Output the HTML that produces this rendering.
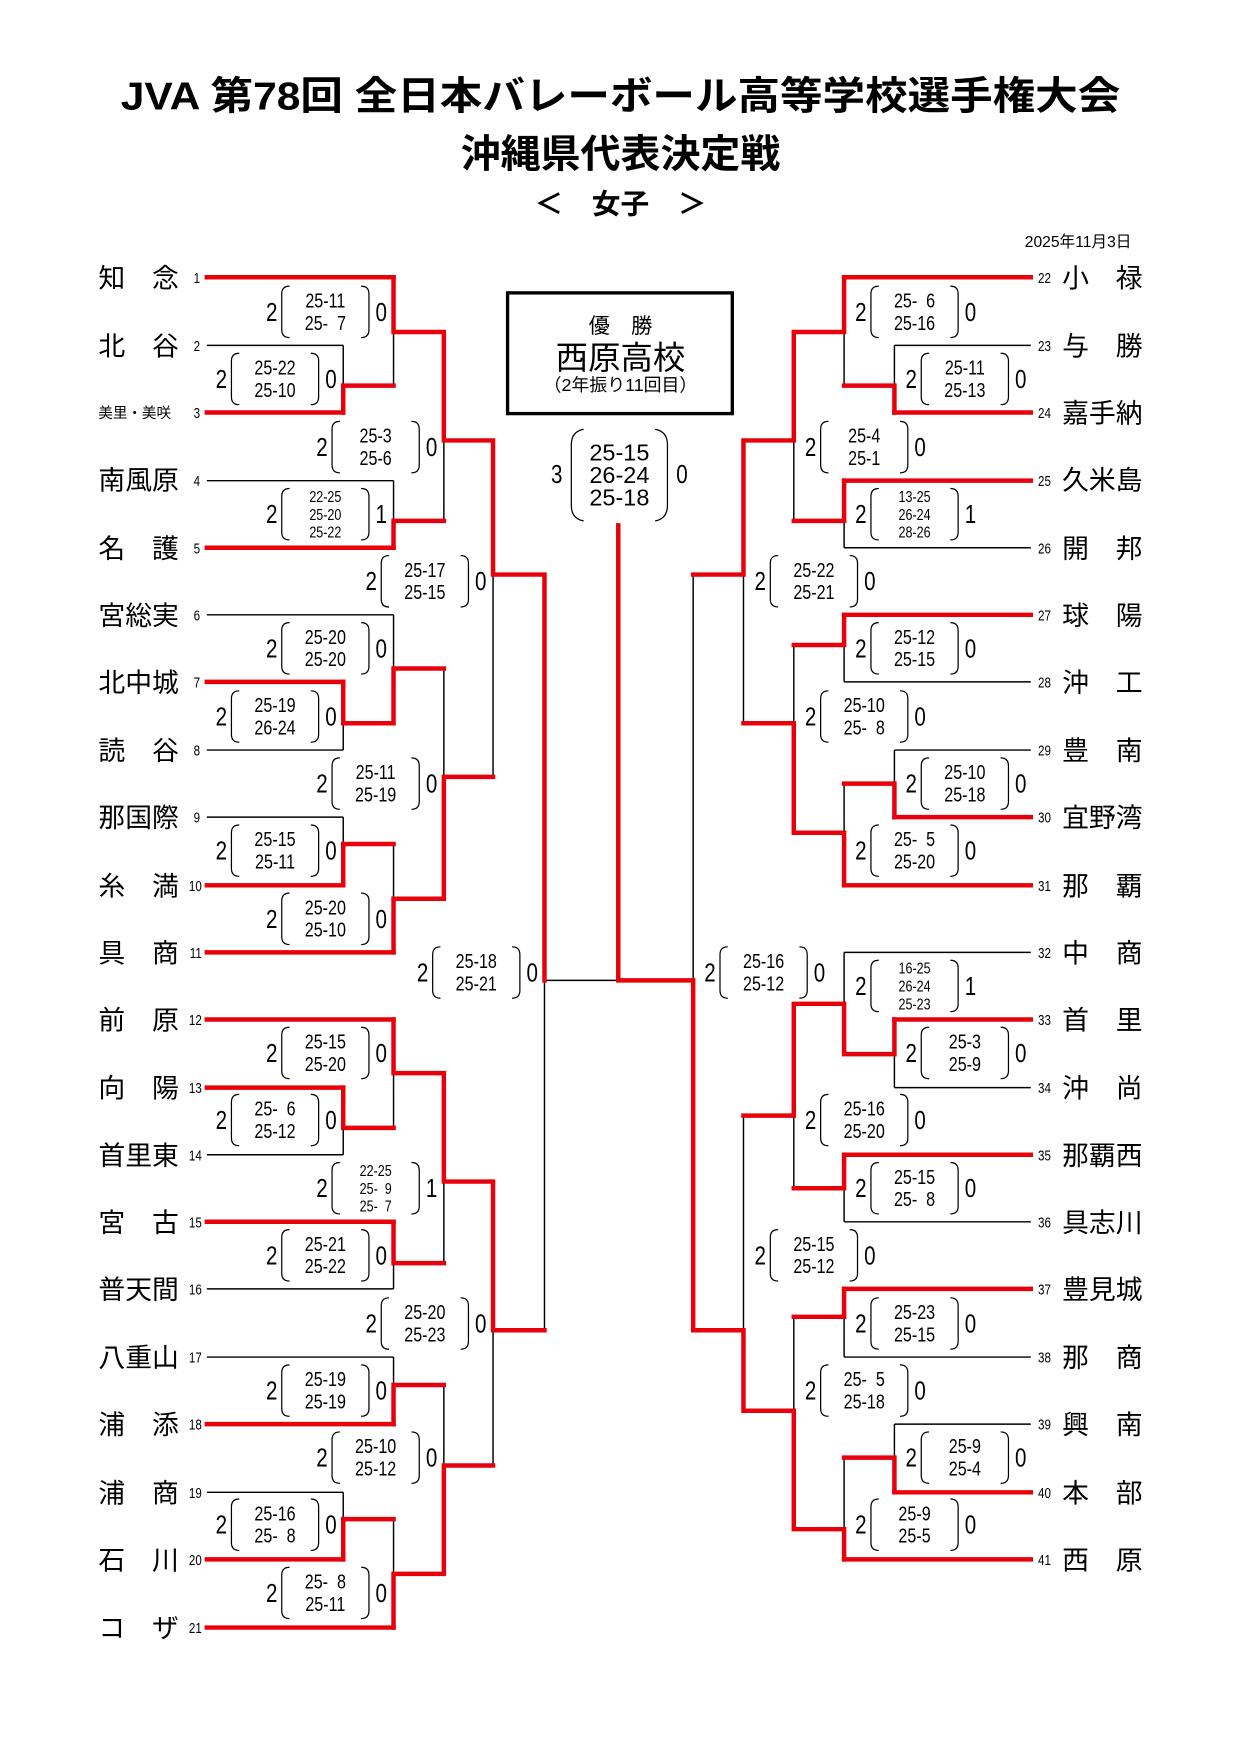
<!DOCTYPE html>
<html><head><meta charset="utf-8"><style>
html,body{margin:0;padding:0;background:#fff;}
svg{display:block;}
text{font-family:"Liberation Sans","Noto Sans CJK JP",sans-serif;fill:#000;}
.n{font-size:24px;}
.num{font-size:13px;font-family:"Liberation Sans Narrow","Liberation Sans",sans-serif;}
.w{font-size:23px;text-anchor:middle;font-family:"Liberation Sans Narrow","Liberation Sans",sans-serif;}
.s{font-size:18px;text-anchor:middle;font-family:"Liberation Sans Narrow","Liberation Sans",sans-serif;}
.s3{font-size:14px;text-anchor:middle;font-family:"Liberation Sans Narrow","Liberation Sans",sans-serif;}
.w,.s,.s3,.num{transform-box:fill-box;transform-origin:center;transform:scaleX(.8);}
.p{fill:none;stroke:#000;stroke-width:1.1;}
.r{stroke:#e8000b;stroke-width:4;stroke-linecap:square;fill:none;}
.k{stroke:#000;stroke-width:1.3;fill:none;}
</style></head><body>
<svg width="1241" height="1755" viewBox="0 0 1110 1570" preserveAspectRatio="none" xmlns="http://www.w3.org/2000/svg">
<defs>
<g id="pp"><path class="p" d="M24,-23 Q17,-23 17,-16 V16 Q17,23 24,23"/><path class="p" d="M88,-23 Q95,-23 95,-16 V16 Q95,23 88,23"/></g>
</defs>
<!-- Title -->
<text x="555" y="98" text-anchor="middle" font-size="35" font-weight="bold" textLength="894" lengthAdjust="spacingAndGlyphs">JVA 第78回 全日本バレーボール高等学校選手権大会</text>
<text x="555" y="150" text-anchor="middle" font-size="35" font-weight="bold" textLength="286" lengthAdjust="spacingAndGlyphs">沖縄県代表決定戦</text>
<text x="555" y="191" text-anchor="middle" font-size="25" font-weight="bold" textLength="154" lengthAdjust="spacingAndGlyphs">＜　女子　＞</text>
<text x="1012" y="221" text-anchor="end" font-size="14">2025年11月3日</text>

<!-- Left names -->
<g class="n">
<text x="88" y="257">知　念</text><text x="88" y="318">北　谷</text>
<text x="88" y="374" style="font-size:13px">美里・美咲</text>
<text x="88" y="438">南風原</text><text x="88" y="499">名　護</text><text x="88" y="559">宮総実</text>
<text x="88" y="619">北中城</text><text x="88" y="680">読　谷</text><text x="88" y="740">那国際</text>
<text x="88" y="801">糸　満</text><text x="88" y="861">具　商</text><text x="88" y="921">前　原</text>
<text x="88" y="982">向　陽</text><text x="88" y="1042">首里東</text><text x="88" y="1102">宮　古</text>
<text x="88" y="1162">普天間</text><text x="88" y="1223">八重山</text><text x="88" y="1283">浦　添</text>
<text x="88" y="1344">浦　商</text><text x="88" y="1404">石　川</text><text x="88" y="1465">コ　ザ</text>
</g>
<g class="num" text-anchor="end">
<text x="180" y="253">1</text><text x="180" y="314">2</text><text x="180" y="374">3</text><text x="180" y="435">4</text><text x="180" y="495">5</text><text x="180" y="555">6</text><text x="180" y="615">7</text><text x="180" y="676">8</text><text x="180" y="736">9</text><text x="182" y="797">10</text><text x="182" y="857">11</text><text x="182" y="917">12</text><text x="182" y="978">13</text><text x="182" y="1038">14</text><text x="182" y="1098">15</text><text x="182" y="1158">16</text><text x="182" y="1219">17</text><text x="182" y="1279">18</text><text x="182" y="1340">19</text><text x="182" y="1400">20</text><text x="182" y="1461">21</text>
</g>
<!-- Right names -->
<g class="n">
<text x="950" y="257">小　禄</text><text x="950" y="318">与　勝</text><text x="950" y="378">嘉手納</text>
<text x="950" y="438">久米島</text><text x="950" y="499">開　邦</text><text x="950" y="559">球　陽</text>
<text x="950" y="619">沖　工</text><text x="950" y="680">豊　南</text><text x="950" y="740">宜野湾</text>
<text x="950" y="801">那　覇</text><text x="950" y="861">中　商</text><text x="950" y="921">首　里</text>
<text x="950" y="982">沖　尚</text><text x="950" y="1042">那覇西</text><text x="950" y="1102">具志川</text>
<text x="950" y="1162">豊見城</text><text x="950" y="1223">那　商</text><text x="950" y="1283">興　南</text>
<text x="950" y="1344">本　部</text><text x="950" y="1404">西　原</text>
</g>
<g class="num">
<text x="927" y="253">22</text><text x="927" y="314">23</text><text x="927" y="374">24</text><text x="927" y="435">25</text><text x="927" y="495">26</text><text x="927" y="555">27</text><text x="927" y="615">28</text><text x="927" y="676">29</text><text x="927" y="736">30</text><text x="927" y="797">31</text><text x="927" y="857">32</text><text x="927" y="917">33</text><text x="927" y="978">34</text><text x="927" y="1038">35</text><text x="927" y="1098">36</text><text x="927" y="1158">37</text><text x="927" y="1219">38</text><text x="927" y="1279">39</text><text x="927" y="1340">40</text><text x="927" y="1400">41</text>
</g>

<!-- Left team lines -->
<path class="k" d="M185,309H307 M185,430H352 M185,550H352 M185,671H307 M185,731H307 M185,1033H307 M185,1153H352 M185,1214H352 M185,1335H307"/>
<path class="r" d="M185,248H352 M185,369H307 M185,490H352 M185,610H307 M185,792H307 M185,852H352 M185,912H352 M185,973H307 M185,1093H352 M185,1274H352 M185,1395H307 M185,1456H352"/>
<!-- Right team lines -->
<path class="k" d="M922,309H800 M922,490H755 M922,610H755 M922,671H800 M922,852H755 M922,973H800 M922,1093H755 M922,1214H755 M922,1274H800"/>
<path class="r" d="M922,248H755 M922,369H800 M922,430H755 M922,550H755 M922,731H800 M922,792H755 M922,912H800 M922,1033H755 M922,1153H755 M922,1335H800 M922,1395H755"/>

<!-- Left joins: black verticals -->
<path class="k" d="M307,309V369 M352,248V345 M352,430V490 M397,297V466 M307,610V671 M352,550V647 M307,731V792 M352,755V852 M397,598V804 M441,394V695 M307,973V1033 M352,912V1009 M352,1093V1153 M397,960V1130 M352,1214V1274 M307,1335V1395 M352,1359V1456 M397,1239V1408 M441,1057V1311 M487,514V1190 M487,877H553"/>
<!-- Left joins: red -->
<path class="r" d="M307,369V345H352 M352,248V297H397 M352,490V466H397 M397,297V394H441 M307,610V647H352 M352,647V598H397 M307,792V755H352 M352,852V804H397 M397,804V695H441 M441,394V514H487 M307,973V1009H352 M352,912V960H397 M352,1093V1130H397 M397,960V1057H441 M352,1274V1239H397 M307,1395V1359H352 M352,1456V1408H397 M397,1408V1311H441 M441,1057V1190H487 M487,514V877"/>

<!-- Right joins: black verticals -->
<path class="k" d="M800,309V369 M755,248V345 M755,430V490 M710,297V466 M755,550V610 M800,671V731 M755,701V792 M710,577V745 M665,394V647 M800,912V973 M755,852V943 M755,1033V1093 M710,898V1063 M755,1153V1214 M800,1274V1335 M755,1304V1395 M710,1178V1368 M665,998V1262 M620,514V1190"/>
<!-- Right joins: red -->
<path class="r" d="M800,369V345H755 M755,248V297H710 M755,430V466H710 M710,297V394H665 M755,550V577H710 M800,731V701H755 M755,792V745H710 M710,745V647H665 M665,394V514H620 M800,912V943H755 M755,943V898H710 M755,1033V1063H710 M710,898V998H665 M755,1153V1178H710 M800,1335V1304H755 M755,1395V1368H710 M710,1368V1262H665 M665,1262V1190H620 M620,1190V877H553 M553,877V470"/>

<!-- Champion box -->
<rect x="454" y="262" width="201" height="108" fill="none" stroke="#000" stroke-width="3"/>
<text x="555" y="298" text-anchor="middle" font-size="19">優　勝</text>
<text x="555" y="330" text-anchor="middle" font-size="29">西原高校</text>
<text x="555" y="350" text-anchor="middle" font-size="16">（2年振り11回目）</text>
<!-- Final score -->
<text x="498" y="432" class="w">3</text>
<path class="p" d="M522,384 Q511,386 511,398 V452 Q511,464 522,466"/>
<path class="p" d="M586,384 Q597,386 597,398 V452 Q597,464 586,466"/>
<text x="554" y="412" text-anchor="middle" font-size="21">25-15</text>
<text x="554" y="432" text-anchor="middle" font-size="21">26-24</text>
<text x="554" y="452" text-anchor="middle" font-size="21">25-18</text>
<text x="610" y="432" class="w">0</text>

<!-- Score blocks left (X = vertical-117) -->
<g transform="translate(235,279)"><use href="#pp"/><text class="w" x="8" y="8">2</text><text class="s" x="56" y="-4">25-11</text><text class="s" x="56" y="16">25-&#8199;7</text><text class="w" x="106" y="8">0</text></g>
<g transform="translate(190,339)"><use href="#pp"/><text class="w" x="8" y="8">2</text><text class="s" x="56" y="-4">25-22</text><text class="s" x="56" y="16">25-10</text><text class="w" x="106" y="8">0</text></g>
<g transform="translate(280,400)"><use href="#pp"/><text class="w" x="8" y="8">2</text><text class="s" x="56" y="-4">25-3</text><text class="s" x="56" y="16">25-6</text><text class="w" x="106" y="8">0</text></g>
<g transform="translate(235,460)"><use href="#pp"/><text class="w" x="8" y="8">2</text><text class="s3" x="56" y="-11">22-25</text><text class="s3" x="56" y="5">25-20</text><text class="s3" x="56" y="21">25-22</text><text class="w" x="106" y="8">1</text></g>
<g transform="translate(324,520)"><use href="#pp"/><text class="w" x="8" y="8">2</text><text class="s" x="56" y="-4">25-17</text><text class="s" x="56" y="16">25-15</text><text class="w" x="106" y="8">0</text></g>
<g transform="translate(235,580)"><use href="#pp"/><text class="w" x="8" y="8">2</text><text class="s" x="56" y="-4">25-20</text><text class="s" x="56" y="16">25-20</text><text class="w" x="106" y="8">0</text></g>
<g transform="translate(190,641)"><use href="#pp"/><text class="w" x="8" y="8">2</text><text class="s" x="56" y="-4">25-19</text><text class="s" x="56" y="16">26-24</text><text class="w" x="106" y="8">0</text></g>
<g transform="translate(280,701)"><use href="#pp"/><text class="w" x="8" y="8">2</text><text class="s" x="56" y="-4">25-11</text><text class="s" x="56" y="16">25-19</text><text class="w" x="106" y="8">0</text></g>
<g transform="translate(190,761)"><use href="#pp"/><text class="w" x="8" y="8">2</text><text class="s" x="56" y="-4">25-15</text><text class="s" x="56" y="16">25-11</text><text class="w" x="106" y="8">0</text></g>
<g transform="translate(235,822)"><use href="#pp"/><text class="w" x="8" y="8">2</text><text class="s" x="56" y="-4">25-20</text><text class="s" x="56" y="16">25-10</text><text class="w" x="106" y="8">0</text></g>
<g transform="translate(370,870)"><use href="#pp"/><text class="w" x="8" y="8">2</text><text class="s" x="56" y="-4">25-18</text><text class="s" x="56" y="16">25-21</text><text class="w" x="106" y="8">0</text></g>
<g transform="translate(235,942)"><use href="#pp"/><text class="w" x="8" y="8">2</text><text class="s" x="56" y="-4">25-15</text><text class="s" x="56" y="16">25-20</text><text class="w" x="106" y="8">0</text></g>
<g transform="translate(190,1002)"><use href="#pp"/><text class="w" x="8" y="8">2</text><text class="s" x="56" y="-4">25-&#8199;6</text><text class="s" x="56" y="16">25-12</text><text class="w" x="106" y="8">0</text></g>
<g transform="translate(280,1063)"><use href="#pp"/><text class="w" x="8" y="8">2</text><text class="s3" x="56" y="-11">22-25</text><text class="s3" x="56" y="5">25-&#8199;9</text><text class="s3" x="56" y="21">25-&#8199;7</text><text class="w" x="106" y="8">1</text></g>
<g transform="translate(235,1123)"><use href="#pp"/><text class="w" x="8" y="8">2</text><text class="s" x="56" y="-4">25-21</text><text class="s" x="56" y="16">25-22</text><text class="w" x="106" y="8">0</text></g>
<g transform="translate(324,1184)"><use href="#pp"/><text class="w" x="8" y="8">2</text><text class="s" x="56" y="-4">25-20</text><text class="s" x="56" y="16">25-23</text><text class="w" x="106" y="8">0</text></g>
<g transform="translate(235,1244)"><use href="#pp"/><text class="w" x="8" y="8">2</text><text class="s" x="56" y="-4">25-19</text><text class="s" x="56" y="16">25-19</text><text class="w" x="106" y="8">0</text></g>
<g transform="translate(280,1304)"><use href="#pp"/><text class="w" x="8" y="8">2</text><text class="s" x="56" y="-4">25-10</text><text class="s" x="56" y="16">25-12</text><text class="w" x="106" y="8">0</text></g>
<g transform="translate(190,1364)"><use href="#pp"/><text class="w" x="8" y="8">2</text><text class="s" x="56" y="-4">25-16</text><text class="s" x="56" y="16">25-&#8199;8</text><text class="w" x="106" y="8">0</text></g>
<g transform="translate(235,1425)"><use href="#pp"/><text class="w" x="8" y="8">2</text><text class="s" x="56" y="-4">25-&#8199;8</text><text class="s" x="56" y="16">25-11</text><text class="w" x="106" y="8">0</text></g>

<!-- Score blocks right (X = vertical+7) -->
<g transform="translate(762,279)"><use href="#pp"/><text class="w" x="8" y="8">2</text><text class="s" x="56" y="-4">25-&#8199;6</text><text class="s" x="56" y="16">25-16</text><text class="w" x="106" y="8">0</text></g>
<g transform="translate(807,339)"><use href="#pp"/><text class="w" x="8" y="8">2</text><text class="s" x="56" y="-4">25-11</text><text class="s" x="56" y="16">25-13</text><text class="w" x="106" y="8">0</text></g>
<g transform="translate(717,400)"><use href="#pp"/><text class="w" x="8" y="8">2</text><text class="s" x="56" y="-4">25-4</text><text class="s" x="56" y="16">25-1</text><text class="w" x="106" y="8">0</text></g>
<g transform="translate(762,460)"><use href="#pp"/><text class="w" x="8" y="8">2</text><text class="s3" x="56" y="-11">13-25</text><text class="s3" x="56" y="5">26-24</text><text class="s3" x="56" y="21">28-26</text><text class="w" x="106" y="8">1</text></g>
<g transform="translate(672,520)"><use href="#pp"/><text class="w" x="8" y="8">2</text><text class="s" x="56" y="-4">25-22</text><text class="s" x="56" y="16">25-21</text><text class="w" x="106" y="8">0</text></g>
<g transform="translate(762,580)"><use href="#pp"/><text class="w" x="8" y="8">2</text><text class="s" x="56" y="-4">25-12</text><text class="s" x="56" y="16">25-15</text><text class="w" x="106" y="8">0</text></g>
<g transform="translate(717,641)"><use href="#pp"/><text class="w" x="8" y="8">2</text><text class="s" x="56" y="-4">25-10</text><text class="s" x="56" y="16">25-&#8199;8</text><text class="w" x="106" y="8">0</text></g>
<g transform="translate(807,701)"><use href="#pp"/><text class="w" x="8" y="8">2</text><text class="s" x="56" y="-4">25-10</text><text class="s" x="56" y="16">25-18</text><text class="w" x="106" y="8">0</text></g>
<g transform="translate(762,761)"><use href="#pp"/><text class="w" x="8" y="8">2</text><text class="s" x="56" y="-4">25-&#8199;5</text><text class="s" x="56" y="16">25-20</text><text class="w" x="106" y="8">0</text></g>
<g transform="translate(627,870)"><use href="#pp"/><text class="w" x="8" y="8">2</text><text class="s" x="56" y="-4">25-16</text><text class="s" x="56" y="16">25-12</text><text class="w" x="106" y="8">0</text></g>
<g transform="translate(762,882)"><use href="#pp"/><text class="w" x="8" y="8">2</text><text class="s3" x="56" y="-11">16-25</text><text class="s3" x="56" y="5">26-24</text><text class="s3" x="56" y="21">25-23</text><text class="w" x="106" y="8">1</text></g>
<g transform="translate(807,942)"><use href="#pp"/><text class="w" x="8" y="8">2</text><text class="s" x="56" y="-4">25-3</text><text class="s" x="56" y="16">25-9</text><text class="w" x="106" y="8">0</text></g>
<g transform="translate(717,1002)"><use href="#pp"/><text class="w" x="8" y="8">2</text><text class="s" x="56" y="-4">25-16</text><text class="s" x="56" y="16">25-20</text><text class="w" x="106" y="8">0</text></g>
<g transform="translate(762,1063)"><use href="#pp"/><text class="w" x="8" y="8">2</text><text class="s" x="56" y="-4">25-15</text><text class="s" x="56" y="16">25-&#8199;8</text><text class="w" x="106" y="8">0</text></g>
<g transform="translate(672,1123)"><use href="#pp"/><text class="w" x="8" y="8">2</text><text class="s" x="56" y="-4">25-15</text><text class="s" x="56" y="16">25-12</text><text class="w" x="106" y="8">0</text></g>
<g transform="translate(762,1184)"><use href="#pp"/><text class="w" x="8" y="8">2</text><text class="s" x="56" y="-4">25-23</text><text class="s" x="56" y="16">25-15</text><text class="w" x="106" y="8">0</text></g>
<g transform="translate(717,1244)"><use href="#pp"/><text class="w" x="8" y="8">2</text><text class="s" x="56" y="-4">25-&#8199;5</text><text class="s" x="56" y="16">25-18</text><text class="w" x="106" y="8">0</text></g>
<g transform="translate(807,1304)"><use href="#pp"/><text class="w" x="8" y="8">2</text><text class="s" x="56" y="-4">25-9</text><text class="s" x="56" y="16">25-4</text><text class="w" x="106" y="8">0</text></g>
<g transform="translate(762,1364)"><use href="#pp"/><text class="w" x="8" y="8">2</text><text class="s" x="56" y="-4">25-9</text><text class="s" x="56" y="16">25-5</text><text class="w" x="106" y="8">0</text></g>
</svg>
</body></html>
